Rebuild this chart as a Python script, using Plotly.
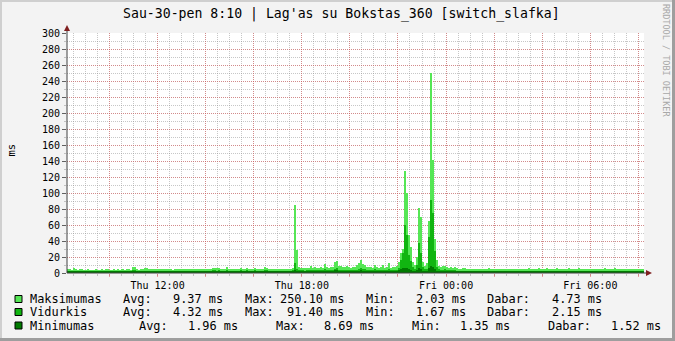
import plotly.graph_objects as go
import pandas as pd

# ---------------- data (ms, 5-minute steps, Thu 08:15 -> Fri 08:15) ----------------
max_ms = [
    4.5, 5.0, 4.2, 6.0, 4.8, 4.0, 4.4, 5.2, 3.9, 4.1, 4.6, 4.3,
    3.8, 4.2, 5.0, 4.1, 3.9, 4.6, 4.0, 4.4, 5.3, 4.2, 4.0, 4.7,
    4.3, 4.9, 4.1, 4.6, 4.2, 4.8, 4.5, 4.0, 8.0, 7.6, 4.6, 4.2,
    4.6, 4.9, 5.8, 6.0, 5.6, 5.2, 4.8, 4.7, 4.9, 4.5, 4.6, 5.0,
    4.8, 4.5, 5.0, 4.6, 4.3, 4.7, 5.2, 4.4, 4.6, 4.9, 4.5, 4.8,
    5.0, 4.7, 5.3, 5.1, 4.6, 4.9, 5.5, 5.0, 4.8, 5.2, 5.0, 4.7,
    6.0, 6.3, 5.8, 6.1, 5.4, 5.2, 5.6, 7.0, 5.3, 5.5, 5.1, 5.4,
    5.6, 5.2, 5.8, 5.0, 5.4, 6.8, 5.5, 5.1, 5.3, 5.7, 4.9, 5.2,
    5.0, 5.6, 8.0, 6.2, 5.0, 4.6, 4.8, 5.2, 4.5, 4.7, 5.0, 4.6,
    4.8, 4.5, 5.0, 4.7, 6.5, 85.0, 29.0, 7.5, 6.0, 6.8, 5.8, 6.2,
    6.5, 8.8, 6.0, 7.2, 6.4, 6.0, 7.0, 6.6, 10.8, 7.4, 6.8, 7.0,
    8.0, 14.0, 15.0, 9.0, 8.5, 8.0, 7.6, 8.2, 7.0, 6.8, 7.5, 7.2,
    9.5, 12.0, 16.0, 11.0, 10.5, 8.0, 7.0, 7.4, 6.8, 10.0, 7.2, 6.6,
    7.0, 9.8, 6.8, 7.5, 12.0, 6.5, 7.0, 8.0, 9.0, 14.0, 25.0, 30.0,
    128.0, 100.0, 47.0, 33.0, 14.0, 10.0, 20.0, 81.0, 70.0, 14.0, 9.0, 12.0,
    65.0, 250.1, 141.0, 43.0, 16.0, 9.0, 7.0, 8.5, 8.8, 7.2, 6.0, 7.5,
    6.5, 8.0, 6.0, 5.5, 5.0, 5.8, 6.2, 5.0, 4.8, 5.4, 5.0, 4.6,
    5.2, 4.8, 5.5, 4.6, 5.0, 4.4, 5.8, 4.7, 5.0, 4.5, 5.2, 4.8,
    4.6, 5.0, 5.6, 4.5, 4.8, 5.2, 4.4, 4.9, 5.3, 4.6, 5.0, 4.7,
    5.5, 4.8, 6.2, 5.0, 4.6, 5.4, 4.9, 5.8, 4.7, 5.1, 4.6, 6.0,
    4.8, 5.6, 4.5, 5.2, 6.5, 4.9, 4.6, 5.0, 5.5, 4.7, 5.8, 5.0,
    4.6, 5.2, 4.8, 6.0, 5.0, 4.5, 5.4, 4.9, 5.6, 4.6, 5.0, 5.3,
    5.0, 4.7, 5.5, 4.8, 6.2, 5.0, 4.6, 5.2, 4.9, 5.8, 4.7, 5.0,
    4.8, 5.3, 4.6, 5.0, 5.6, 4.7, 4.9, 5.2, 4.6, 5.0, 4.5, 4.73,
]
avg_ms = [
    2.6, 2.8, 2.5, 3.0, 2.7, 2.4, 2.6, 2.9, 2.4, 2.5, 2.7, 2.6,
    2.4, 2.6, 2.9, 2.5, 2.4, 2.7, 2.5, 2.6, 3.0, 2.5, 2.4, 2.8,
    2.6, 2.8, 2.5, 2.7, 2.5, 2.8, 2.6, 2.4, 3.5, 3.2, 2.7, 2.5,
    2.7, 2.8, 3.0, 3.1, 2.9, 2.8, 2.7, 2.6, 2.8, 2.6, 2.7, 2.8,
    2.8, 2.7, 2.9, 2.7, 2.6, 2.8, 3.0, 2.6, 2.7, 2.9, 2.7, 2.8,
    2.9, 2.8, 3.0, 2.9, 2.7, 2.8, 3.1, 2.9, 2.8, 3.0, 2.9, 2.8,
    3.2, 3.3, 3.1, 3.2, 3.0, 2.9, 3.1, 3.5, 3.0, 3.1, 2.9, 3.0,
    3.1, 3.0, 3.2, 2.9, 3.0, 3.4, 3.1, 2.9, 3.0, 3.2, 2.8, 3.0,
    2.9, 3.1, 3.8, 3.3, 2.9, 2.7, 2.8, 3.0, 2.7, 2.8, 2.9, 2.7,
    2.8, 2.7, 2.9, 2.8, 3.3, 12.5, 5.0, 3.6, 3.2, 3.4, 3.1, 3.3,
    3.4, 4.0, 3.2, 3.6, 3.4, 3.2, 3.5, 3.4, 4.5, 3.6, 3.4, 3.5,
    3.8, 5.5, 6.0, 4.2, 4.0, 3.8, 3.7, 3.9, 3.5, 3.4, 3.7, 3.6,
    4.2, 5.0, 6.5, 4.8, 4.5, 3.8, 3.5, 3.6, 3.4, 4.4, 3.6, 3.3,
    3.5, 4.2, 3.4, 3.6, 5.0, 3.3, 3.5, 3.8, 4.2, 6.0, 16.0, 25.0,
    60.0, 47.0, 22.0, 15.0, 7.0, 5.0, 10.0, 38.0, 25.0, 8.0, 4.5, 5.5,
    45.0, 91.4, 75.0, 27.0, 8.0, 4.5, 3.8, 4.2, 4.4, 3.6, 3.2, 3.6,
    3.3, 3.8, 3.1, 2.9, 2.7, 3.0, 3.1, 2.7, 2.6, 2.8, 2.6, 2.5,
    2.7, 2.5, 2.8, 2.4, 2.6, 2.4, 2.9, 2.5, 2.6, 2.4, 2.7, 2.5,
    2.4, 2.6, 2.8, 2.4, 2.5, 2.7, 2.3, 2.5, 2.7, 2.4, 2.6, 2.5,
    2.8, 2.5, 3.0, 2.6, 2.4, 2.7, 2.5, 2.9, 2.4, 2.6, 2.4, 2.9,
    2.5, 2.8, 2.4, 2.6, 3.1, 2.5, 2.4, 2.6, 2.8, 2.4, 2.9, 2.6,
    2.4, 2.7, 2.5, 2.9, 2.6, 2.3, 2.7, 2.5, 2.8, 2.4, 2.6, 2.7,
    2.6, 2.4, 2.8, 2.5, 3.0, 2.6, 2.4, 2.7, 2.5, 2.9, 2.4, 2.6,
    2.5, 2.7, 2.4, 2.6, 2.8, 2.4, 2.5, 2.7, 2.3, 2.5, 2.3, 2.15,
]
min_ms = [
    1.9, 2.0, 1.8, 2.1, 1.9, 1.8, 1.9, 2.0, 1.7, 1.8, 1.9, 1.8,
    1.7, 1.8, 2.0, 1.8, 1.7, 1.9, 1.8, 1.8, 2.1, 1.8, 1.7, 1.9,
    1.8, 2.0, 1.7, 1.9, 1.8, 1.9, 1.8, 1.7, 2.3, 2.1, 1.9, 1.8,
    1.9, 2.0, 2.1, 2.2, 2.0, 1.9, 1.9, 1.8, 2.0, 1.8, 1.9, 2.0,
    2.0, 1.9, 2.0, 1.9, 1.8, 2.0, 2.1, 1.8, 1.9, 2.0, 1.9, 2.0,
    2.0, 1.9, 2.1, 2.0, 1.9, 2.0, 2.2, 2.0, 1.9, 2.1, 2.0, 1.9,
    2.2, 2.3, 2.1, 2.2, 2.1, 2.0, 2.1, 2.4, 2.0, 2.1, 2.0, 2.1,
    2.1, 2.0, 2.2, 2.0, 2.1, 2.3, 2.1, 2.0, 2.1, 2.2, 1.9, 2.0,
    2.0, 2.1, 2.5, 2.2, 2.0, 1.9, 1.9, 2.0, 1.8, 1.9, 2.0, 1.9,
    1.9, 1.8, 2.0, 1.9, 2.2, 3.5, 2.6, 2.3, 2.1, 2.2, 2.1, 2.2,
    2.3, 2.6, 2.2, 2.4, 2.3, 2.2, 2.4, 2.3, 2.8, 2.4, 2.3, 2.4,
    2.5, 3.2, 3.4, 2.7, 2.6, 2.5, 2.5, 2.6, 2.4, 2.3, 2.5, 2.4,
    2.7, 3.0, 3.6, 2.9, 2.8, 2.5, 2.4, 2.4, 2.3, 2.8, 2.4, 2.3,
    2.4, 2.7, 2.3, 2.4, 3.0, 2.3, 2.4, 2.5, 2.7, 3.5, 5.0, 6.0,
    6.5, 6.0, 4.5, 3.5, 2.8, 2.5, 3.8, 6.8, 5.2, 3.0, 2.4, 2.6,
    6.0, 8.69, 7.5, 4.6, 2.8, 2.3, 2.1, 2.2, 2.3, 2.0, 1.9, 2.0,
    1.9, 2.1, 1.8, 1.7, 1.6, 1.8, 1.8, 1.6, 1.5, 1.7, 1.6, 1.5,
    1.6, 1.5, 1.7, 1.45, 1.6, 1.5, 1.7, 1.5, 1.6, 1.45, 1.6, 1.5,
    1.5, 1.6, 1.7, 1.45, 1.5, 1.6, 1.35, 1.5, 1.6, 1.45, 1.55, 1.5,
    1.7, 1.5, 1.8, 1.6, 1.45, 1.6, 1.5, 1.7, 1.45, 1.6, 1.45, 1.7,
    1.5, 1.7, 1.45, 1.6, 1.8, 1.5, 1.45, 1.6, 1.7, 1.45, 1.7, 1.6,
    1.45, 1.6, 1.5, 1.7, 1.6, 1.4, 1.6, 1.5, 1.7, 1.45, 1.6, 1.6,
    1.6, 1.45, 1.7, 1.5, 1.8, 1.6, 1.45, 1.6, 1.5, 1.7, 1.45, 1.55,
    1.5, 1.6, 1.45, 1.55, 1.7, 1.45, 1.5, 1.6, 1.4, 1.5, 1.4, 1.52,
]

series_names = ["Maksimumas", "Vidurkis", "Minimumas"]
series_colors = ["#55E655", "#11B511", "#007A00"]
legend_rows = [
    [("Maksimumas", 30), ("Avg:", 123), ("9.37 ms", 173), ("Max:", 245), ("250.10 ms", 280),
     ("Min:", 366), ("2.03 ms", 416), ("Dabar:", 487), ("4.73 ms", 552)],
    [("Vidurkis", 30), ("Avg:", 123), ("4.32 ms", 173), ("Max:", 245), ("91.40 ms", 287),
     ("Min:", 366), ("1.67 ms", 416), ("Dabar:", 487), ("2.15 ms", 552)],
    [("Minimumas", 30), ("Avg:", 139), ("1.96 ms", 188), ("Max:", 276), ("8.69 ms", 324),
     ("Min:", 412), ("1.35 ms", 460), ("Dabar:", 548), ("1.52 ms", 611)],
]
title_text = "Sau-30-pen 8:10 | Lag'as su Bokstas_360 [switch_slafka]"
y_ticks = list(range(0, 301, 20))

# ---------------- geometry ----------------
W, H = 675, 341
L, R, T, B = 67, 644, 33, 273
MONO = "DejaVu Sans Mono"


def px(x):
    return (x - L) / (R - L)


def py(y):
    return (B - y) / (B - T)


t0 = pd.Timestamp("2009-01-29 08:15")
step = pd.Timedelta(minutes=5)
times = [t0 + step * i + step / 2 for i in range(len(max_ms))]
x_range = [pd.Timestamp("2009-01-29 08:14"), pd.Timestamp("2009-01-30 08:14")]

fig = go.Figure()
for vals, name, col in zip([max_ms, avg_ms, min_ms], series_names, series_colors):
    fig.add_trace(go.Bar(x=times, y=vals, name=name, width=300000,
                         marker=dict(color=col, line=dict(width=0)), showlegend=False))

major_ticks = list(pd.date_range("2009-01-29 10:00", "2009-01-30 08:00", freq="2h"))
major_text = [t.strftime("%a %H:%M") if t.hour % 6 == 0 else "" for t in major_ticks]

MGRID = "rgba(222,80,80,0.5)"
GRID = "rgba(143,143,143,0.5)"

fig.update_layout(
    width=W, height=H,
    margin=dict(l=L, r=W - R, t=T, b=H - B, pad=0),
    paper_bgcolor="#F3F3F3", plot_bgcolor="#FFFFFF",
    bargap=0, barmode="overlay",
    font=dict(family=MONO, color="#000000", size=10),
    xaxis=dict(type="date", range=x_range, tickmode="array", tickvals=major_ticks,
               ticktext=major_text, showgrid=True, gridcolor=MGRID, griddash="1px,1px",
               gridwidth=1, ticks="outside", ticklen=3, tickcolor=MGRID,
               zeroline=False, showline=False, tickfont=dict(family=MONO, size=10),
               minor=dict(dtick=1800000, tick0="2009-01-29 00:00", showgrid=True,
                          gridcolor=GRID, griddash="1px,1px", gridwidth=1,
                          ticks="outside", ticklen=2, tickcolor=GRID)),
    yaxis=dict(range=[0, 300], tickmode="array", tickvals=y_ticks,
               ticktext=[str(v) for v in y_ticks], showgrid=True, gridcolor=MGRID,
               griddash="1px,1px", gridwidth=1, ticks="outside", ticklen=4,
               tickcolor="#606060", zeroline=False, showline=False,
               tickfont=dict(family=MONO, size=10),
               minor=dict(dtick=10, showgrid=True, gridcolor=GRID, griddash="1px,1px",
                          gridwidth=1, ticks="outside", ticklen=2, tickcolor=GRID)),
)

shapes = []
# frame
shapes.append(dict(type="rect", xref="paper", yref="paper", x0=px(0), x1=px(W), y0=py(0), y1=py(2),
                   fillcolor="#CFCFCF", line=dict(width=0), layer="above"))
shapes.append(dict(type="rect", xref="paper", yref="paper", x0=px(0), x1=px(2), y0=py(0), y1=py(H),
                   fillcolor="#CFCFCF", line=dict(width=0), layer="above"))
shapes.append(dict(type="rect", xref="paper", yref="paper", x0=px(W - 3), x1=px(W), y0=py(0), y1=py(H),
                   fillcolor="#9E9E9E", line=dict(width=0), layer="above"))
shapes.append(dict(type="rect", xref="paper", yref="paper", x0=px(0), x1=px(W), y0=py(H - 3), y1=py(H),
                   fillcolor="#9E9E9E", line=dict(width=0), layer="above"))
# axes
shapes.append(dict(type="line", xref="paper", yref="paper", x0=px(L), x1=px(647), y0=py(B), y1=py(B),
                   line=dict(color="#404040", width=1), layer="above"))
shapes.append(dict(type="line", xref="paper", yref="paper", x0=px(L), x1=px(L), y0=py(B), y1=py(30),
                   line=dict(color="#404040", width=1), layer="above"))
# arrows
def tri(pts):
    return "M " + " L ".join(f"{px(a)},{py(b)}" for a, b in pts) + " Z"

shapes.append(dict(type="path", xref="paper", yref="paper", path=tri([(64, 31), (70, 31), (67, 25)]),
                   fillcolor="#7F1F1F", line=dict(width=0), layer="above"))
shapes.append(dict(type="path", xref="paper", yref="paper", path=tri([(646, 270), (646, 276), (652, 273)]),
                   fillcolor="#7F1F1F", line=dict(width=0), layer="above"))

row_y = [299, 312, 325.5]
annotations = []
for (row, yc, col) in zip(legend_rows, row_y, series_colors):
    shapes.append(dict(type="rect", xref="paper", yref="paper", x0=px(15), x1=px(22),
                       y0=py(yc - 3.5), y1=py(yc + 3.5), fillcolor=col,
                       line=dict(color="#000000", width=1), layer="above"))
    for txt, xs in row:
        annotations.append(dict(text=txt, x=px(xs), y=py(yc), xref="paper", yref="paper",
                                xanchor="left", yanchor="middle", showarrow=False,
                                borderpad=0, borderwidth=0,
                                font=dict(family=MONO, size=11.9, color="#000000")))

annotations.append(dict(text=title_text, x=px(341), y=py(14), xref="paper", yref="paper",
                        xanchor="center", yanchor="middle", showarrow=False, borderpad=0,
                        font=dict(family=MONO, size=13.2, color="#000000")))
annotations.append(dict(text="ms", x=px(10.5), y=py(150), xref="paper", yref="paper",
                        xanchor="center", yanchor="middle", showarrow=False, textangle=-90,
                        borderpad=0, font=dict(family=MONO, size=10.5, color="#000000")))
annotations.append(dict(text="RRDTOOL / TOBI OETIKER", x=px(666), y=py(61), xref="paper", yref="paper",
                        xanchor="center", yanchor="middle", showarrow=False, textangle=90,
                        borderpad=0, font=dict(family=MONO, size=8.5, color="#A8A8A8")))

fig.update_layout(shapes=shapes, annotations=annotations)
fig.write_html("out.html")
